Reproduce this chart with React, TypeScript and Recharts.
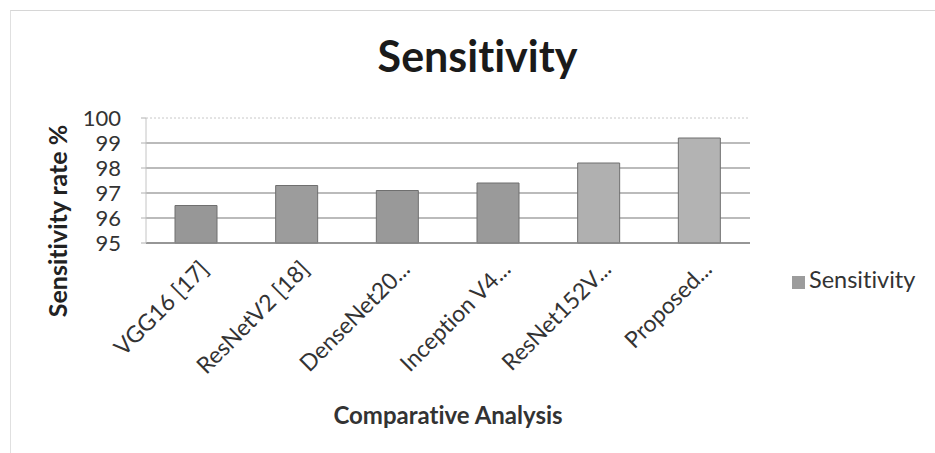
import React from "react";
import { BarChart, Bar, CartesianGrid, XAxis, YAxis, Legend, Label, Cell, ReferenceLine } from "recharts";

const models = ["VGG16 [17]", "ResNetV2 [18]", "DenseNet20...", "Inception V4...", "ResNet152V...", "Proposed..."];
const sensitivity = [96.5, 97.3, 97.1, 97.4, 98.2, 99.2];
const yTicks = [95, 96, 97, 98, 99, 100];
const barFills = ["#979797", "#9c9c9c", "#999999", "#9a9a9a", "#b0b0b0", "#b3b3b3"];

const data = models.map((name, i) => ({ name, value: sensitivity[i] }));

const font = "Lato, 'Open Sans', sans-serif";

function SlantTick({ x, y, payload }: any) {
  return (
    <g transform={`translate(${x + 8},${y + 14})`}>
      <text
        x={0}
        y={0}
        dy="0.35em"
        textAnchor="end"
        transform="rotate(-45)"
        fill="#333"
        fontSize={23}
        fontFamily={font}
        style={{ fontVariantLigatures: "none" }}
      >
        {payload.value}
      </text>
    </g>
  );
}

// y title sits lower than the plot centre in the original, so place it by hand
function YTitle() {
  return (
    <text
      x={0}
      y={0}
      transform="translate(67,221) rotate(-90)"
      textAnchor="middle"
      fill="#222"
      fontSize={25}
      fontWeight={700}
      fontFamily={font}
      style={{ fontVariantLigatures: "none" }}
    >
      Sensitivity rate %
    </text>
  );
}

export default function App() {
  return (
    <div
      style={{
        position: "absolute",
        left: 0,
        top: 0,
        width: 935,
        height: 453,
        background: "#fff",
        fontFamily: font,
        fontVariantLigatures: "none"
      }}
    >
      <div
        style={{
          position: "absolute",
          left: 10,
          top: 10,
          right: 0,
          bottom: 0,
          borderTop: "1px solid #d6d6d6",
          borderLeft: "1px solid #e0e0e0"
        }}
      />
      <div
        style={{
          position: "absolute",
          left: 0,
          width: 955,
          top: 30,
          textAlign: "center",
          fontSize: 43,
          fontWeight: 700,
          color: "#1a1a1a"
        }}
      >
        Sensitivity
      </div>
      <BarChart
        width={935}
        height={453}
        data={data}
        margin={{ top: 118, right: 45, bottom: 0, left: 0 }}
        style={{ fontVariantLigatures: "none" }}
      >
        <CartesianGrid
          horizontal
          vertical={false}
          horizontalValues={[95, 96, 97, 98, 99]}
          stroke="#a4a4a4"
          strokeWidth={1.5}
        />
        <ReferenceLine y={100} stroke="#c8c8c8" strokeDasharray="2 2" />
        <XAxis
          dataKey="name"
          interval={0}
          tick={<SlantTick />}
          tickLine={false}
          axisLine={{ stroke: "#8a8a8a", strokeWidth: 1.5 }}
          height={210}
        >
          <Label
            value="Comparative Analysis"
            position="insideBottom"
            offset={29}
            fill="#333"
            fontSize={24}
            fontWeight={700}
            fontFamily={font}
          />
        </XAxis>
        <YAxis
          width={146}
          domain={[95, 100]}
          ticks={yTicks}
          interval={0}
          tickSize={5}
          tickMargin={20}
          tickLine={{ stroke: "#b0b0b0" }}
          axisLine={{ stroke: "#c4c4c4" }}
          tick={{ fill: "#333", fontSize: 22, fontFamily: font }}
        >
          <Label content={<YTitle />} />
        </YAxis>
        <Legend
          layout="vertical"
          align="right"
          verticalAlign="top"
          iconType="square"
          iconSize={13}
          wrapperStyle={{ left: 792, top: 265, width: 140, fontFamily: font, fontSize: 23.5 }}
          formatter={(v) => <span style={{ color: "#333" }}>{v}</span>}
        />
        <Bar dataKey="value" name="Sensitivity" fill="#9c9c9c" stroke="#6f6f6f" strokeWidth={1} barSize={42} isAnimationActive={false}>
          {data.map((d, i) => (
            <Cell key={d.name} fill={barFills[i]} />
          ))}
        </Bar>
      </BarChart>
    </div>
  );
}
